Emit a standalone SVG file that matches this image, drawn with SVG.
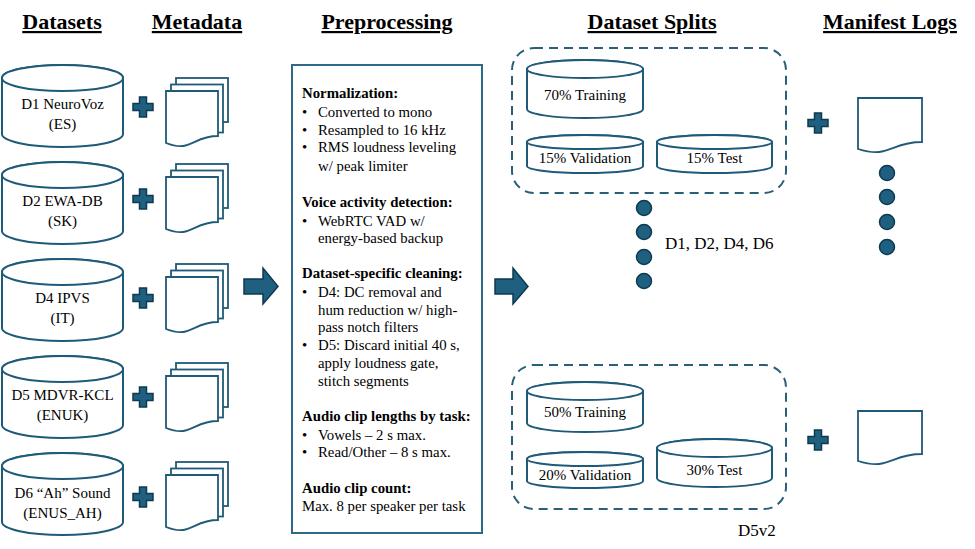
<svg xmlns="http://www.w3.org/2000/svg" width="975" height="549" viewBox="0 0 975 549">
<style>
.t{font-family:"Liberation Serif","Times New Roman",serif;fill:#000}
.h{font-family:"Liberation Serif","Times New Roman",serif;font-weight:bold;font-size:22px;text-decoration:underline;text-anchor:middle;fill:#000}
.c{font-size:15px;text-anchor:middle}
.p{font-size:14.8px}
.b{font-weight:bold}
.cyl{fill:#fff;stroke:#1f5a78;stroke-width:2}
.doc{fill:#fff;stroke:#1f5a78;stroke-width:1.8}
.acc{fill:#1f5f80;stroke:#0e3a50;stroke-width:1.5}
.dash{fill:none;stroke:#2a5f78;stroke-width:2;stroke-dasharray:9 6}
</style>
<defs>
<path id="plus" d="M-3.5,-10 H3.5 V-3.5 H10 V3.5 H3.5 V10 H-3.5 V3.5 H-10 V-3.5 H-3.5 Z"/>
<g id="stack">
<rect x="10" y="-13" width="52" height="44" class="doc"/>
<rect x="5" y="-6.5" width="52" height="48" class="doc"/>
<path d="M0,0 H52 V45 C26,45 26,62 0,52 Z" class="doc"/>
</g>
</defs>
<rect width="975" height="549" fill="#fff"/>

<g id="titles">
<text class="h" x="62" y="29">Datasets</text>
<text class="h" x="197" y="29">Metadata</text>
<text class="h" x="387" y="29">Preprocessing</text>
<text class="h" x="652" y="29">Dataset Splits</text>
<text class="h" x="890" y="29">Manifest Logs</text>
</g>

<g id="d1">
<path class="cyl" d="M2,78 V134 A60.5,13 0 0 0 123,134 V78 A60.5,13 0 0 0 2,78 Z"/>
<ellipse class="cyl" cx="62.5" cy="78" rx="60.5" ry="13"/>
<text class="t c" x="62.5" y="109">D1 NeuroVoz</text>
<text class="t c" x="62.5" y="129">(ES)</text>
</g>
<g id="d2">
<path class="cyl" d="M2,175 V231 A60.5,13 0 0 0 123,231 V175 A60.5,13 0 0 0 2,175 Z"/>
<ellipse class="cyl" cx="62.5" cy="175" rx="60.5" ry="13"/>
<text class="t c" x="62.5" y="206">D2 EWA-DB</text>
<text class="t c" x="62.5" y="226">(SK)</text>
</g>
<g id="d4">
<path class="cyl" d="M2,272 V328 A60.5,13 0 0 0 123,328 V272 A60.5,13 0 0 0 2,272 Z"/>
<ellipse class="cyl" cx="62.5" cy="272" rx="60.5" ry="13"/>
<text class="t c" x="62.5" y="303">D4 IPVS</text>
<text class="t c" x="62.5" y="323">(IT)</text>
</g>
<g id="d5">
<path class="cyl" d="M2,369 V425 A60.5,13 0 0 0 123,425 V369 A60.5,13 0 0 0 2,369 Z"/>
<ellipse class="cyl" cx="62.5" cy="369" rx="60.5" ry="13"/>
<text class="t c" x="62.5" y="400">D5 MDVR-KCL</text>
<text class="t c" x="62.5" y="420">(ENUK)</text>
</g>
<g id="d6">
<path class="cyl" d="M2,466 V522 A60.5,13 0 0 0 123,522 V466 A60.5,13 0 0 0 2,466 Z"/>
<ellipse class="cyl" cx="62.5" cy="466" rx="60.5" ry="13"/>
<text class="t c" x="62.5" y="498">D6 “Ah” Sound</text>
<text class="t c" x="62.5" y="518">(ENUS_AH)</text>
</g>

<g id="plus-signs">
<use href="#plus" class="acc" x="143" y="107"/>
<use href="#plus" class="acc" x="143" y="199"/>
<use href="#plus" class="acc" x="143" y="298"/>
<use href="#plus" class="acc" x="143" y="397"/>
<use href="#plus" class="acc" x="143" y="497"/>
<use href="#plus" class="acc" x="818" y="123"/>
<use href="#plus" class="acc" x="818" y="440"/>
</g>

<g id="metadata">
<use href="#stack" x="166" y="91"/>
<use href="#stack" x="166" y="177"/>
<use href="#stack" x="166" y="277"/>
<use href="#stack" x="166" y="376"/>
<use href="#stack" x="166" y="475"/>
</g>

<g id="connectors">
<path class="acc" d="M244,279 H263 V268 L278,286.5 L263,304 V294 H244 Z"/>
<path class="acc" d="M495,279 H513 V268 L528,286.5 L513,304 V294 H495 Z"/>
</g>

<g id="preprocessing">
<rect x="292" y="65" width="190" height="468" fill="#fff" stroke="#2e6a87" stroke-width="2"/>
<text class="t p b" x="302" y="98">Normalization:</text>
<text class="t p" x="302" y="117">•</text><text class="t p" x="318" y="117">Converted to mono</text>
<text class="t p" x="302" y="135">•</text><text class="t p" x="318" y="135">Resampled to 16 kHz</text>
<text class="t p" x="302" y="152">•</text><text class="t p" x="318" y="152">RMS loudness leveling</text>
<text class="t p" x="318" y="171">w/ peak limiter</text>
<text class="t p b" x="302" y="207">Voice activity detection:</text>
<text class="t p" x="302" y="226">•</text><text class="t p" x="318" y="226">WebRTC VAD w/</text>
<text class="t p" x="318" y="243">energy-based backup</text>
<text class="t p b" x="302" y="278">Dataset-specific cleaning:</text>
<text class="t p" x="302" y="297">•</text><text class="t p" x="318" y="297">D4: DC removal and</text>
<text class="t p" x="318" y="315">hum reduction w/ high-</text>
<text class="t p" x="318" y="332">pass notch filters</text>
<text class="t p" x="302" y="350">•</text><text class="t p" x="318" y="350">D5: Discard initial 40 s,</text>
<text class="t p" x="318" y="368">apply loudness gate,</text>
<text class="t p" x="318" y="386">stitch segments</text>
<text class="t p b" x="302" y="421">Audio clip lengths by task:</text>
<text class="t p" x="302" y="440">•</text><text class="t p" x="318" y="440">Vowels – 2 s max.</text>
<text class="t p" x="302" y="457">•</text><text class="t p" x="318" y="457">Read/Other – 8 s max.</text>
<text class="t p b" x="302" y="493">Audio clip count:</text>
<text class="t p" x="302" y="511">Max. 8 per speaker per task</text>
</g>

<g id="split-main">
<rect class="dash" x="512" y="48" width="274" height="145" rx="22"/>
<path class="cyl" d="M527,69 V109 A58,9 0 0 0 643,109 V69 A58,9 0 0 0 527,69 Z"/>
<ellipse class="cyl" cx="585" cy="69" rx="58" ry="9"/>
<text class="t c" x="585" y="100">70% Training</text>
<path class="cyl" d="M527,142 V166 A58,7 0 0 0 643,166 V142 A58,7 0 0 0 527,142 Z"/>
<ellipse class="cyl" cx="585" cy="142" rx="58" ry="7"/>
<text class="t c" x="585" y="163">15% Validation</text>
<path class="cyl" d="M657,142 V166 A57.5,7 0 0 0 772,166 V142 A57.5,7 0 0 0 657,142 Z"/>
<ellipse class="cyl" cx="714.5" cy="142" rx="57.5" ry="7"/>
<text class="t c" x="714.5" y="163">15% Test</text>
</g>

<g id="split-dots">
<circle class="acc" cx="644" cy="208" r="7.5"/>
<circle class="acc" cx="644" cy="232" r="7.5"/>
<circle class="acc" cx="644" cy="257" r="7.5"/>
<circle class="acc" cx="644" cy="281" r="7.5"/>
<text class="t" x="665" y="249" font-size="17">D1, D2, D4, D6</text>
</g>

<g id="split-d5v2">
<rect class="dash" x="512" y="365" width="274" height="144" rx="22"/>
<path class="cyl" d="M527,391 V423 A58,9 0 0 0 643,423 V391 A58,9 0 0 0 527,391 Z"/>
<ellipse class="cyl" cx="585" cy="391" rx="58" ry="9"/>
<text class="t c" x="585" y="417">50% Training</text>
<path class="cyl" d="M527,459 V481 A58,7 0 0 0 643,481 V459 A58,7 0 0 0 527,459 Z"/>
<ellipse class="cyl" cx="585" cy="459" rx="58" ry="7"/>
<text class="t c" x="585" y="480">20% Validation</text>
<path class="cyl" d="M657,448 V478 A57.5,9 0 0 0 772,478 V448 A57.5,9 0 0 0 657,448 Z"/>
<ellipse class="cyl" cx="714.5" cy="448" rx="57.5" ry="9"/>
<text class="t c" x="714.5" y="475">30% Test</text>
<text class="t" x="738" y="536" font-size="17">D5v2</text>
</g>

<g id="manifest-1">
<path class="doc" d="M858,98 H922 V142 C890,142 890,159 858,149 Z"/>
<circle class="acc" cx="887" cy="173" r="7.5"/>
<circle class="acc" cx="887" cy="197" r="7.5"/>
<circle class="acc" cx="887" cy="222" r="7.5"/>
<circle class="acc" cx="887" cy="247" r="7.5"/>
</g>
<g id="manifest-2">
<path class="doc" d="M858,411 H922 V454 C890,454 890,471 858,461 Z"/>
</g>
</svg>
